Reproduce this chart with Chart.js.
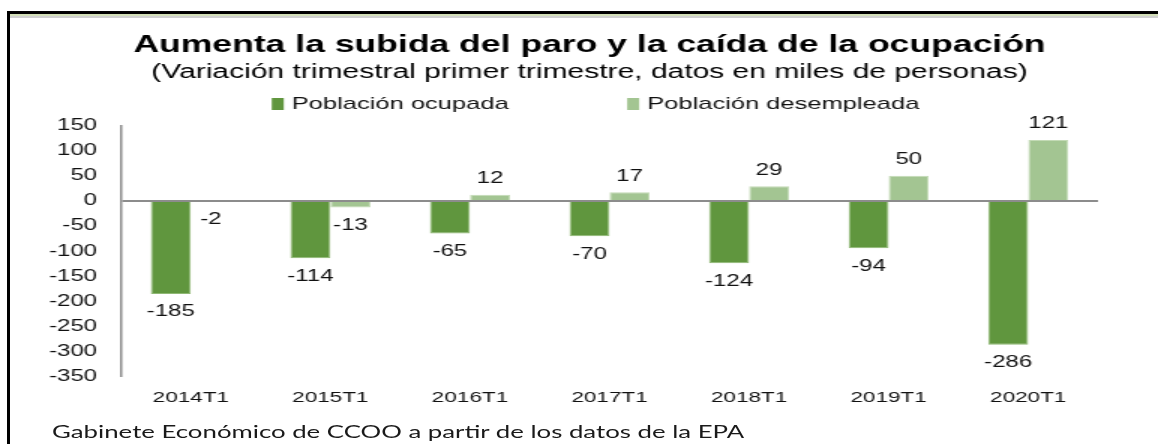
<!DOCTYPE html>
<html lang="es">
<head>
<meta charset="utf-8">
<title>Aumenta la subida del paro y la caída de la ocupación</title>
<script src="https://cdn.jsdelivr.net/npm/chart.js@4.4.0/dist/chart.umd.min.js"></script>
<style>
  body { margin: 0; background: #fff; }
  #frame { position: relative; width: 1158px; height: 444px; overflow: hidden; background: #fff; }
  .line { position: absolute; }
  #stretch { position: absolute; left: 0; top: 0; width: 772px; height: 444px; transform: scaleX(1.5); transform-origin: 0 0; }
  #footer { position: absolute; left: 34.7px; top: 421px; font: 17.2px Lato, "Open Sans", sans-serif; color: #1a1a1a; white-space: nowrap; }
</style>
</head>
<body>
<div id="frame">
  <div id="stretch">
    <canvas id="chart" width="772" height="444"></canvas>
    <div id="footer">Gabinete Económico de CCOO a partir de los datos de la EPA</div>
  </div>
  <div class="line" style="left:7px;top:11px;width:1151px;height:3px;background:#000"></div>
  <div class="line" style="left:10px;top:14px;width:1148px;height:2px;background:#d3dfb8"></div>
  <div class="line" style="left:10px;top:16px;width:1148px;height:2px;background:#cfcfcf"></div>
  <div class="line" style="left:7px;top:11px;width:3px;height:433px;background:#000"></div>
</div>

<script>
// == Data ==
const categories = ["2014T1", "2015T1", "2016T1", "2017T1", "2018T1", "2019T1", "2020T1"];
const ocupada = [-185, -114, -65, -70, -124, -94, -286];
const desempleada = [-2, -13, 12, 17, 29, 50, 121];
const yMin = -350;
const yMax = 150;
const yStep = 50;

const titleText = "Aumenta la subida del paro y la caída de la ocupación";
const subtitleText = "(Variación trimestral primer trimestre, datos en miles de personas)";

Chart.defaults.font.family = '"Liberation Sans", Arial, sans-serif';
Chart.defaults.color = "#111";

// value labels at the end of each bar
const barLabels = {
  id: "barLabels",
  afterDatasetsDraw(chart) {
    const ctx = chart.ctx;
    ctx.save();
    ctx.font = '16px "Liberation Sans", Arial, sans-serif';
    ctx.fillStyle = "#111";
    ctx.textAlign = "center";
    ctx.textBaseline = "middle";
    chart.data.datasets.forEach((ds, i) => {
      chart.getDatasetMeta(i).data.forEach((bar, j) => {
        const v = ds.data[j];
        const y = v < 0 ? bar.y + 18 : bar.y - 16;
        ctx.fillText(String(v), bar.x, y);
      });
    });
    ctx.restore();
  }
};

// legend drawn between subtitle and plot
const wideLegend = {
  id: "wideLegend",
  afterDraw(chart) {
    const ctx = chart.ctx;
    ctx.save();
    ctx.font = '17px "Liberation Sans", Arial, sans-serif';
    ctx.textBaseline = "middle";
    ctx.textAlign = "left";
    let x = chart.chartArea.left + 100.5;
    const yc = 104;
    chart.data.datasets.forEach(ds => {
      ctx.fillStyle = ds.backgroundColor;
      ctx.fillRect(x, yc - 6, 8, 12);
      ctx.fillStyle = "#111";
      ctx.fillText(ds.label, x + 13.3, yc);
      x += 13.3 + ctx.measureText(ds.label).width + 79;
    });
    ctx.restore();
  }
};

// the y axis box is kept narrow so the title sits where it should;
// widen its clip area so the tick labels are not cut off
const unclipY = {
  id: "unclipY",
  afterLayout(chart) {
    chart.scales.y.left = 0;
  }
};

const ctx = document.getElementById("chart").getContext("2d");
new Chart(ctx, {
  type: "bar",
  data: {
    labels: categories,
    datasets: [
      {
        label: "Población ocupada",
        data: ocupada,
        backgroundColor: "#60963e",
        borderColor: "#8fb874",
        borderWidth: 1,
        categoryPercentage: 0.574,
        barPercentage: 1
      },
      {
        label: "Población desempleada",
        data: desempleada,
        backgroundColor: "#a3c592",
        borderColor: "#c3dab5",
        borderWidth: 1,
        categoryPercentage: 0.574,
        barPercentage: 1
      }
    ]
  },
  options: {
    responsive: false,
    animation: false,
    devicePixelRatio: 1,
    layout: { padding: { left: 54, right: 40, top: 0, bottom: 25 } },
    plugins: {
      legend: { display: false },
      tooltip: { enabled: false },
      title: {
        display: true,
        text: titleText,
        color: "#000",
        font: { size: 23.7, weight: "bold" },
        padding: { top: 31, bottom: 0 }
      },
      subtitle: {
        display: true,
        text: subtitleText,
        color: "#000",
        font: { size: 20 },
        padding: { top: 1, bottom: 41 }
      }
    },
    scales: {
      x: {
        grid: { display: false, drawTicks: false },
        border: { display: false },
        ticks: { padding: 12, font: { size: 15 }, color: "#111" }
      },
      y: {
        min: yMin,
        max: yMax,
        ticks: { stepSize: yStep, padding: 16, font: { size: 16 }, color: "#111" },
        grid: {
          drawTicks: false,
          color: c => (c.tick && c.tick.value === 0 ? "#8c8c8c" : "rgba(0,0,0,0)"),
          lineWidth: c => (c.tick && c.tick.value === 0 ? 2 : 0)
        },
        border: { display: true, color: "#8c8c8c", width: 1.5 },
        afterFit: scale => { scale.width = 26.7; }
      }
    }
  },
  plugins: [barLabels, wideLegend, unclipY]
});
</script>
</body>
</html>
